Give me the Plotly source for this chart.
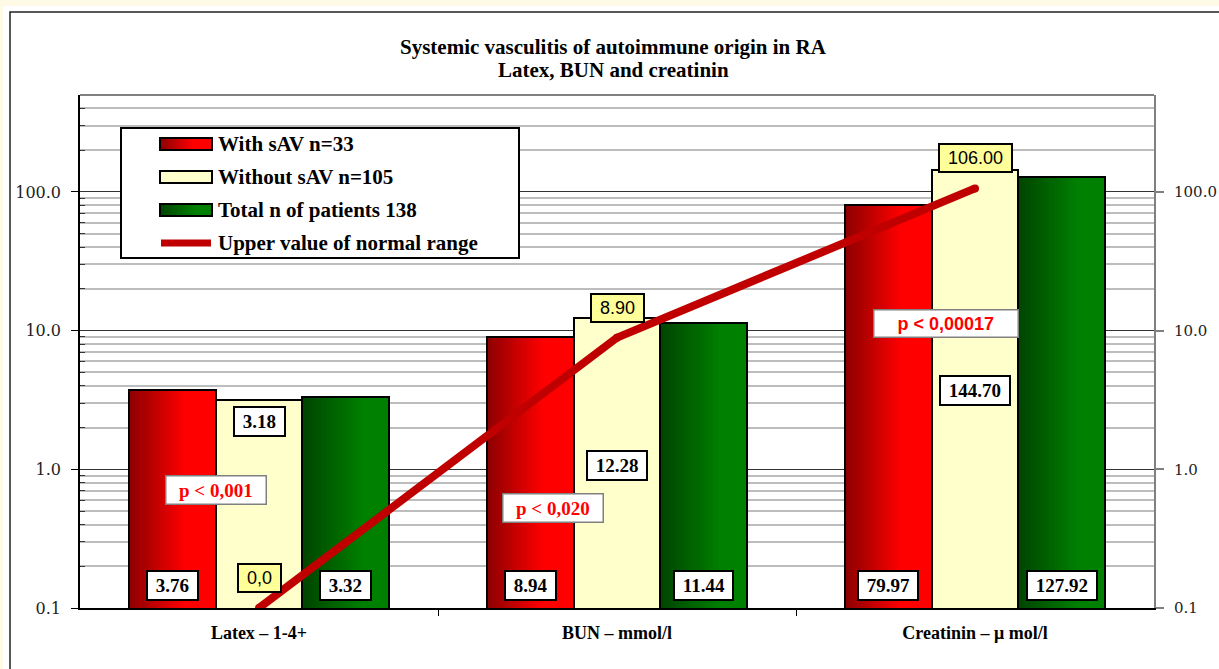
import math
import plotly.graph_objects as go

# ---------------- data ----------------
categories = ["Latex – 1-4+", "BUN – mmol/l", "Creatinin – μ mol/l"]
with_sav = [3.76, 8.94, 79.97]
without_sav = [3.18, 12.28, 144.70]
total_patients = [3.32, 11.44, 127.92]
upper_normal = [0.0, 8.90, 106.00]
upper_normal_labels = ["0,0", "8.90", "106.00"]
p_values = ["p < 0,001", "p < 0,020", "p < 0,00017"]
series_names = ["With sAV n=33", "Without sAV n=105",
                "Total n of patients 138", "Upper value of normal range"]
y_tick_values = [0.1, 1, 10, 100]
title_lines = ["Systemic vasculitis of autoimmune origin in RA",
               "Latex, BUN and creatinin"]

# ---------------- geometry / style ----------------
W, H = 1219, 669
ML, MR, MT, MB = 80, 65, 95, 61
PW, PH = W - ML - MR, H - MT - MB
Y_MIN, Y_MAX = 0.1, 500


def fx(px):
    return (px - ML) / PW


def fy(py):
    return (H - MB - py) / PH


BAR_W = 0.242
BAR_OFFSETS = [-0.363, -0.121, 0.121]
N_SLICES = 28
RED_STOPS = [(0.0, (140, 0, 0)), (0.65, (255, 0, 0)), (1.0, (255, 0, 0))]
GREEN_STOPS = [(0.0, (0, 68, 0)), (0.7, (0, 128, 0)), (1.0, (0, 128, 0))]
YELLOW = "#FFFFCC"
LINE_RED = "#C00000"
SERIF = "Liberation Serif"
SANS = "Liberation Sans"

# label positions (value units on the log axis / category units)
BOTTOM_LABEL_Y = 0.146
YELLOW_LABEL_Y = [2.21, 1.07, 3.70]
LINE_LABEL_Y = [0.164, 14.6, 176]
P_LABEL_POS = [(-0.12, 0.706), (0.821, 0.524), (1.918, 11.2)]


def grad(stops, t):
    for (t0, c0), (t1, c1) in zip(stops[:-1], stops[1:]):
        if t <= t1:
            f = (t - t0) / (t1 - t0) if t1 > t0 else 0
            return "rgb(%d,%d,%d)" % tuple(round(a + (b - a) * f) for a, b in zip(c0, c1))
    return "rgb(%d,%d,%d)" % stops[-1][1]


xs = list(range(len(categories)))
series = [(with_sav, RED_STOPS), (without_sav, None), (total_patients, GREEN_STOPS)]

fig = go.Figure()

# bar fills (gradient emulated with overlapping slices)
for (vals, stops), off in zip(series, BAR_OFFSETS):
    if stops is None:
        fig.add_trace(go.Bar(x=xs, y=vals, offset=off, width=BAR_W,
                             marker=dict(color=YELLOW, line=dict(width=0)),
                             showlegend=False, hoverinfo="skip"))
    else:
        for k in range(N_SLICES):
            t0 = k / N_SLICES
            fig.add_trace(go.Bar(x=xs, y=vals, offset=off + t0 * BAR_W,
                                 width=BAR_W * (1 - t0),
                                 marker=dict(color=grad(stops, (k + 0.5) / N_SLICES),
                                             line=dict(width=0)),
                                 showlegend=False, hoverinfo="skip"))

# bar outlines
for (vals, _), off, name in zip(series, BAR_OFFSETS, series_names):
    fig.add_trace(go.Bar(x=xs, y=vals, offset=off, width=BAR_W, name=name,
                         marker=dict(color="rgba(0,0,0,0)",
                                     line=dict(color="black", width=2)),
                         showlegend=False))

# upper normal range line
fig.add_trace(go.Scatter(x=xs, y=[v if v > 0 else Y_MIN for v in upper_normal],
                         mode="lines+markers", name=series_names[3],
                         line=dict(color=LINE_RED, width=8),
                         marker=dict(size=8, color=LINE_RED),
                         showlegend=False))

# dummy trace for right axis
fig.add_trace(go.Scatter(x=[0], y=[1], yaxis="y2", mode="markers",
                         marker=dict(opacity=0), showlegend=False, hoverinfo="skip"))

annotations = []
# title
for t, yc in zip(title_lines, (47, 70)):
    annotations.append(dict(x=fx(613), y=fy(yc), xref="paper", yref="paper",
                            xanchor="center", yanchor="middle", text=t, showarrow=False,
                            font=dict(family=SERIF, size=21, color="black", weight="bold")))
# value labels
for i in xs:
    for vals, off in ((with_sav, BAR_OFFSETS[0]), (total_patients, BAR_OFFSETS[2])):
        annotations.append(dict(
            x=i + off + BAR_W / 2, y=math.log10(BOTTOM_LABEL_Y), xref="x", yref="y",
            text="&nbsp;%.2f&nbsp;" % vals[i], showarrow=False,
            font=dict(family=SERIF, size=19, color="black", weight="bold"),
            bgcolor="white", bordercolor="black", borderwidth=2, borderpad=3))
    annotations.append(dict(
        x=i + BAR_OFFSETS[1] + BAR_W / 2, y=math.log10(YELLOW_LABEL_Y[i]), xref="x", yref="y",
        text="&nbsp;%.2f&nbsp;" % without_sav[i], showarrow=False,
        font=dict(family=SERIF, size=19, color="black", weight="bold"),
        bgcolor="white", bordercolor="black", borderwidth=2, borderpad=3))
    annotations.append(dict(
        x=i, y=math.log10(LINE_LABEL_Y[i]), xref="x", yref="y",
        text="&nbsp;" + upper_normal_labels[i] + "&nbsp;", showarrow=False,
        font=dict(family=SANS, size=18, color="black"),
        bgcolor="#FFFF99", bordercolor="black", borderwidth=2, borderpad=3))
for j, (txt, (px_, py_)) in enumerate(zip(p_values, P_LABEL_POS)):
    fam = SANS if j == 2 else SERIF
    pad = "&nbsp;&nbsp;&nbsp;&nbsp;" if j == 2 else "&nbsp;&nbsp;"
    annotations.append(dict(
        x=px_, y=math.log10(py_), xref="x", yref="y",
        text=pad + txt.replace("<", "&lt;") + pad, showarrow=False,
        font=dict(family=fam, size=18 if j == 2 else 19, color="#FF0000", weight="bold"),
        bgcolor="white", bordercolor="#808080", borderwidth=1.5, borderpad=3))

# ---------------- shapes: background, frame, legend ----------------
shapes = []
CREAM = "#FFFAE6"
shapes.append(dict(type="rect", xref="paper", yref="paper", layer="below",
                   x0=fx(-20), x1=fx(W + 20), y0=fy(6), y1=fy(-20),
                   fillcolor=CREAM, line=dict(width=0)))
shapes.append(dict(type="rect", xref="paper", yref="paper", layer="below",
                   x0=fx(-20), x1=fx(3), y0=fy(H + 20), y1=fy(-20),
                   fillcolor=CREAM, line=dict(width=0)))
shapes.append(dict(type="rect", xref="paper", yref="paper", layer="below",
                   x0=fx(10), x1=fx(W + 40), y0=fy(H + 40), y1=fy(12),
                   fillcolor="white", line=dict(color="#222222", width=1.5)))
# plot area top border
shapes.append(dict(type="line", xref="paper", yref="paper", layer="above",
                   x0=0, x1=1, y0=1, y1=1, line=dict(color="#808080", width=2)))

# legend box
LG_X0, LG_X1, LG_Y0, LG_Y1 = 121, 519, 128, 258
shapes.append(dict(type="rect", xref="paper", yref="paper", layer="above",
                   x0=fx(LG_X0), x1=fx(LG_X1), y0=fy(LG_Y1), y1=fy(LG_Y0),
                   fillcolor="white", line=dict(color="black", width=2)))
SW_X0, SW_X1 = 160, 212
row_y = [144, 177, 210, 243]
swatch_stops = [RED_STOPS, None, GREEN_STOPS]
for r, stops in enumerate(swatch_stops):
    yc = row_y[r]
    if stops is None:
        shapes.append(dict(type="rect", xref="paper", yref="paper", layer="above",
                           x0=fx(SW_X0), x1=fx(SW_X1), y0=fy(yc + 6), y1=fy(yc - 6),
                           fillcolor=YELLOW, line=dict(width=0)))
    else:
        for k in range(N_SLICES):
            t0 = k / N_SLICES
            shapes.append(dict(type="rect", xref="paper", yref="paper", layer="above",
                               x0=fx(SW_X0 + t0 * (SW_X1 - SW_X0)), x1=fx(SW_X1),
                               y0=fy(yc + 6), y1=fy(yc - 6),
                               fillcolor=grad(stops, (k + 0.5) / N_SLICES),
                               line=dict(width=0)))
    shapes.append(dict(type="rect", xref="paper", yref="paper", layer="above",
                       x0=fx(SW_X0), x1=fx(SW_X1), y0=fy(yc + 6), y1=fy(yc - 6),
                       fillcolor="rgba(0,0,0,0)", line=dict(color="black", width=2)))
shapes.append(dict(type="line", xref="paper", yref="paper", layer="above",
                   x0=fx(161), x1=fx(211), y0=fy(row_y[3]), y1=fy(row_y[3]),
                   line=dict(color=LINE_RED, width=7)))
for r, name in enumerate(series_names):
    annotations.append(dict(
        x=fx(216), y=fy(row_y[r]), xref="paper", yref="paper",
        xanchor="left", yanchor="middle", text=name, showarrow=False,
        font=dict(family=SERIF, size=21, color="black", weight="bold")))

minor_vals = [m * d for d in (0.1, 1, 10, 100) for m in range(2, 10) if m * d <= Y_MAX]

fig.update_layout(
    width=W, height=H, autosize=False,
    margin=dict(l=ML, r=MR, t=MT, b=MB, pad=0),
    paper_bgcolor="white", plot_bgcolor="rgba(0,0,0,0)",
    barmode="overlay", bargap=0,
    showlegend=False,
    xaxis=dict(range=[-0.5, 2.5], tickmode="array", tickvals=xs, ticktext=categories,
               ticks="", showgrid=False, zeroline=False, automargin=False,
               showline=True, linecolor="black", linewidth=1.5,
               tickfont=dict(family=SERIF, size=18, color="black", weight="bold"),
               ticklabelstandoff=8,
               minor=dict(tickmode="array", tickvals=[0.5, 1.5], ticks="outside",
                          ticklen=6, tickcolor="black", tickwidth=1, showgrid=False)),
    yaxis=dict(type="log", range=[math.log10(Y_MIN), math.log10(Y_MAX)],
               tickmode="array", tickvals=y_tick_values, tickformat=".1f",
               ticks="outside", ticklen=7, tickcolor="black", tickwidth=1,
               showline=True, linecolor="black", linewidth=1.5,
               showgrid=True, gridcolor="#333333", gridwidth=1,
               zeroline=False, ticklabelstandoff=7, automargin=False,
               tickfont=dict(family="DejaVu Serif", size=16, color="#222222"),
               minor=dict(tickmode="array", tickvals=minor_vals, showgrid=True,
                          gridcolor="#BDBDBD", gridwidth=2, ticks="inside",
                          ticklen=5, tickcolor="#333333", tickwidth=1)),
    yaxis2=dict(type="log", range=[math.log10(Y_MIN), math.log10(Y_MAX)],
                overlaying="y", side="right", automargin=False,
                tickmode="array", tickvals=y_tick_values, tickformat=".1f",
                ticks="outside", ticklen=8, tickcolor="#808080", tickwidth=1.5,
                showline=True, linecolor="#808080", linewidth=2,
                showgrid=False, zeroline=False, ticklabelstandoff=7,
                tickfont=dict(family="DejaVu Serif", size=15, color="#222222")),
    shapes=shapes,
    annotations=annotations,
)

fig.write_html("out.html",
               config={"responsive": False, "displayModeBar": False},
               post_script="document.body.style.margin='0';"
                           "document.body.style.padding='0';"
                           "document.body.style.overflow='hidden';"
                           "document.documentElement.style.overflow='hidden';")
